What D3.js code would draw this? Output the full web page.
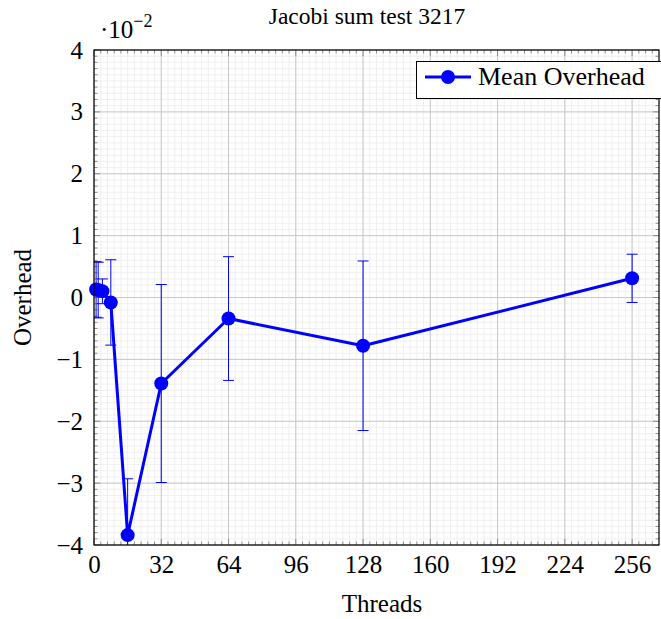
<!DOCTYPE html>
<html><head><meta charset="utf-8">
<script src="https://cdn.jsdelivr.net/npm/d3@7"></script>
<style>body{margin:0;background:#fff}svg{display:block}text{font-family:"Liberation Serif","Times New Roman",serif}</style>
</head><body>
<script>
const threads = [1, 2, 4, 8, 16, 32, 64, 128, 256];
const overhead = [0.13, 0.12, 0.10, -0.08, -3.84, -1.39, -0.34, -0.78, 0.31];
const errors = [0.45, 0.45, 0.20, 0.69, 0.91, 1.60, 1.00, 1.37, 0.39];
const xTicks = [0, 32, 64, 96, 128, 160, 192, 224, 256];
const yTicks = [-4, -3, -2, -1, 0, 1, 2, 3, 4];
const title = "Jacobi sum test 3217";
const seriesName = "Mean Overhead";

const W = 661, H = 619;
const L = 94, R = 659, T = 50, B = 545;
const svg = d3.select("body").append("svg").attr("width", W).attr("height", H);
const x = d3.scaleLinear().domain([0, 268.8]).range([L, R]);
const y = d3.scaleLinear().domain([-4, 4]).range([B, T]);

const data = threads.map((t, i) => ({x: t, y: overhead[i], e: errors[i]}));

// minor grid
const xMinor = d3.range(0, 268.8, 3.2), yMinor = d3.range(-4, 4.001, 0.1);
const g = svg.append("g");
g.selectAll(".xm").data(xMinor).enter().append("line")
  .attr("x1", d => x(d)).attr("x2", d => x(d)).attr("y1", T).attr("y2", B)
  .attr("stroke", "#ececec").attr("stroke-width", 0.8);
g.selectAll(".ym").data(yMinor).enter().append("line")
  .attr("y1", d => y(d)).attr("y2", d => y(d)).attr("x1", L).attr("x2", R)
  .attr("stroke", "#ececec").attr("stroke-width", 0.8);
// major grid
g.selectAll(".xM").data(xTicks).enter().append("line")
  .attr("x1", d => x(d)).attr("x2", d => x(d)).attr("y1", T).attr("y2", B)
  .attr("stroke", "#c8c8c8").attr("stroke-width", 1);
g.selectAll(".yM").data(yTicks).enter().append("line")
  .attr("y1", d => y(d)).attr("y2", d => y(d)).attr("x1", L).attr("x2", R)
  .attr("stroke", "#c8c8c8").attr("stroke-width", 1);

// ticks (inside, all sides)
const tk = svg.append("g").attr("stroke", "#777").attr("stroke-width", 0.8);
xMinor.forEach(v => {
  const big = Math.abs(v / 32 - Math.round(v / 32)) < 1e-6;
  const len = big ? 6 : 3.5;
  tk.append("line").attr("x1", x(v)).attr("x2", x(v)).attr("y1", B).attr("y2", B - len);
  tk.append("line").attr("x1", x(v)).attr("x2", x(v)).attr("y1", T).attr("y2", T + len);
});
yMinor.forEach(v => {
  const big = Math.abs(v - Math.round(v)) < 1e-6;
  const len = big ? 6 : 3.5;
  tk.append("line").attr("y1", y(v)).attr("y2", y(v)).attr("x1", L).attr("x2", L + len);
  tk.append("line").attr("y1", y(v)).attr("y2", y(v)).attr("x1", R).attr("x2", R - len);
});

// axes labels via d3 axes
const xAxis = d3.axisBottom(x).tickValues(xTicks).tickSize(0).tickPadding(10).tickFormat(d3.format("d"));
const ax = svg.append("g").attr("transform", `translate(0,${B})`).call(xAxis);
ax.select(".domain").remove();
ax.selectAll("text").attr("font-size", 25).attr("fill", "#000").attr("font-family", "Liberation Serif");
const yAxis = d3.axisLeft(y).tickValues(yTicks).tickSize(0).tickPadding(11)
  .tickFormat(d => d < 0 ? "\u2212" + Math.abs(d) : String(d));
const ay = svg.append("g").attr("transform", `translate(${L},0)`).call(yAxis);
ay.select(".domain").remove();
ay.selectAll("text").attr("font-size", 25).attr("fill", "#000").attr("font-family", "Liberation Serif");

// clip
svg.append("clipPath").attr("id", "clip").append("rect").attr("x", L).attr("y", T).attr("width", R - L).attr("height", B - T);
const plot = svg.append("g").attr("clip-path", "url(#clip)");
const eb = plot.append("g").attr("stroke", "#0000ff").attr("stroke-width", 1);
data.forEach(d => {
  eb.append("line").attr("x1", x(d.x)).attr("x2", x(d.x)).attr("y1", y(d.y + d.e)).attr("y2", y(d.y - d.e));
  [d.y + d.e, d.y - d.e].forEach(v =>
    eb.append("line").attr("x1", x(d.x) - 5.5).attr("x2", x(d.x) + 5.5).attr("y1", y(v)).attr("y2", y(v)));
});
const line = d3.line().x(d => x(d.x)).y(d => y(d.y));
plot.append("path").datum(data).attr("d", line).attr("fill", "none").attr("stroke", "#0000ff").attr("stroke-width", 3).attr("stroke-linejoin", "round");
svg.append("g").selectAll("circle").data(data).enter().append("circle")
  .attr("cx", d => x(d.x)).attr("cy", d => y(d.y)).attr("r", 7).attr("fill", "#0000ff");

// frame
svg.append("rect").attr("x", L).attr("y", T).attr("width", R - L).attr("height", B - T)
  .attr("fill", "none").attr("stroke", "#000").attr("stroke-width", 1.2);

// legend
const lg = svg.append("g");
lg.append("rect").attr("x", 416.5).attr("y", 61.5).attr("width", 250).attr("height", 37).attr("fill", "#fff").attr("stroke", "#000").attr("stroke-width", 1);
lg.append("line").attr("x1", 425).attr("x2", 471).attr("y1", 77).attr("y2", 77).attr("stroke", "#0000ff").attr("stroke-width", 3);
lg.append("circle").attr("cx", 448).attr("cy", 77).attr("r", 7).attr("fill", "#0000ff");
lg.append("text").attr("x", 478).attr("y", 85).attr("font-size", 26).text(seriesName);

// title, labels
svg.append("text").attr("x", 367).attr("y", 24).attr("text-anchor", "middle").attr("font-size", 23.5).text(title);
const sc = svg.append("text").attr("x", 100).attr("y", 38).attr("font-size", 25);
sc.append("tspan").text("\u00b710");
sc.append("tspan").attr("dy", -11).attr("font-size", 18).text("\u22122");
svg.append("text").attr("x", 382).attr("y", 612).attr("text-anchor", "middle").attr("font-size", 25).text("Threads");
svg.append("text").attr("transform", `translate(31,${(T + B) / 2}) rotate(-90)`).attr("text-anchor", "middle").attr("font-size", 25).text("Overhead");
</script>
</body></html>
